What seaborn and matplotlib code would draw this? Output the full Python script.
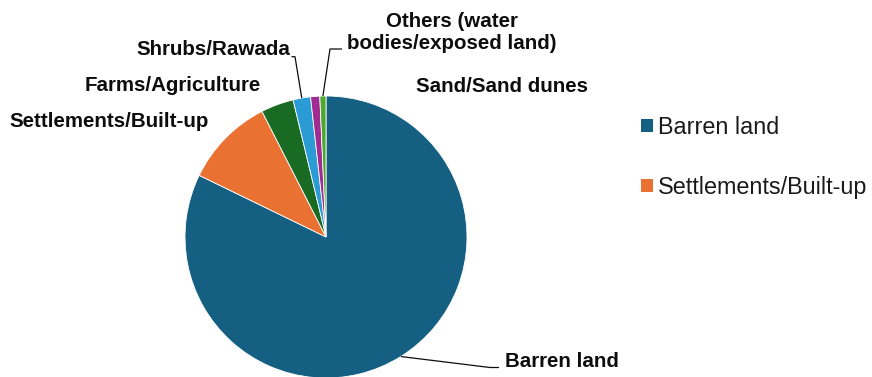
import numpy as np
import matplotlib
matplotlib.use("Agg")
import matplotlib.pyplot as plt
from matplotlib.patches import Patch
import seaborn as sns

# Land-cover shares (%)
categories = [
    "Barren land",
    "Settlements/Built-up",
    "Farms/Agriculture",
    "Shrubs/Rawada",
    "Sand/Sand dunes",
    "Others (water\nbodies/exposed land)",
]
shares = [82.2, 10.3, 3.75, 2.0, 1.05, 0.7]
colors = ["#156082", "#E97132", "#196B24", "#2A9BD4", "#A02B93", "#4EA72E"]
legend_labels = ["Barren land", "Settlements/Built-up"]

sns.set_theme(style="white")
plt.rcParams["font.family"] = ["Liberation Sans", "DejaVu Sans"]

W, H = 872, 377
fig = plt.figure(figsize=(W / 100, H / 100), dpi=100)
fig.patch.set_facecolor("white")

# pie geometry in pixels
cx, cy, r = 326, 237, 141
ax = fig.add_axes([(cx - r) / W, (H - cy - r) / H, 2 * r / W, 2 * r / H])
wedges, _ = ax.pie(
    shares, colors=colors, startangle=90, counterclock=False, radius=1,
    wedgeprops=dict(edgecolor="white", linewidth=0.6),
)
ax.set_xlim(-1, 1)
ax.set_ylim(-1, 1)
ax.set_aspect("equal")
ax.axis("off")


def to_data(x, y):
    return (x - cx) / r, (cy - y) / r


def edge_point(w):
    t = np.deg2rad((w.theta1 + w.theta2) / 2)
    return np.cos(t), np.sin(t)


label_fs = 14.8
ink = "#0d0d0d"

# (text x, baseline y, alignment, leader elbow points) in pixels
layout = [
    (505, 367, "left", [(490, 367.5), (499, 367.5)]),
    (209, 127, "right", None),
    (261, 91, "right", None),
    (290, 55, "right", [(295, 56.7), (291.5, 56.7)]),
    (416, 91.5, "left", None),
    (452, 49, "center", [(330, 49), (342, 49)]),
]

for w, name, (tx, ty, ha, elbow) in zip(wedges, categories, layout):
    lines = name.split("\n")
    for i, line in enumerate(reversed(lines)):
        x, y = to_data(tx, ty - 22 * i)
        ax.text(x, y, line, ha=ha, va="baseline", fontsize=label_fs,
                fontweight="bold", color=ink, clip_on=False)
    if elbow:
        pts = [edge_point(w)] + [to_data(*p) for p in elbow]
        xs, ys = zip(*pts)
        ax.plot(xs, ys, color=ink, lw=0.9, clip_on=False, solid_capstyle="butt")

handles = [Patch(facecolor=c, edgecolor="none") for c in colors[:len(legend_labels)]]
fig.legend(
    handles, legend_labels, loc="upper left",
    bbox_to_anchor=(641 / W, 1 - 116 / H), frameon=False, fontsize=16.8,
    handlelength=0.5, handleheight=0.5, handletextpad=0.22,
    labelspacing=1.59, borderpad=0, borderaxespad=0, labelcolor="#1a1a1a",
)

fig.savefig("out.png", dpi=100, facecolor="white")
